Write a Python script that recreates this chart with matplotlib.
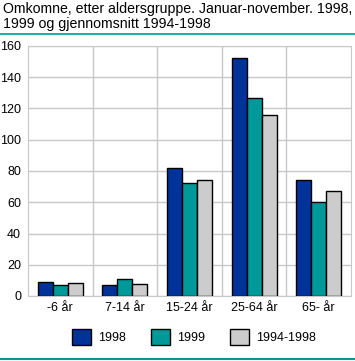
import numpy as np
import matplotlib
matplotlib.use("Agg")
import matplotlib.pyplot as plt
from matplotlib.lines import Line2D
from matplotlib.patches import Patch

categories = ["-6 år", "7-14 år", "15-24 år", "25-64 år", "65- år"]
series_names = ["1998", "1999", "1994-1998"]
v1998 = [9, 7, 82, 152, 74]
v1999 = [7, 11, 72, 127, 60]
vavg = [8.5, 8, 74, 116, 67]
colors = ["#003399", "#009999", "#cccccc"]

W, H = 355, 361
plt.rcParams["font.family"] = ["Liberation Sans", "DejaVu Sans"]
fig = plt.figure(figsize=(W / 100, H / 100), dpi=100)

ax = fig.add_axes([28 / W, (H - 296) / H, 323 / W, 250 / H])

x = np.arange(len(categories))
bw = 0.232
for i, (vals, c) in enumerate(zip([v1998, v1999, vavg], colors)):
    ax.bar(x + (i - 1) * bw, vals, bw, color=c, edgecolor="black", linewidth=1.0, zorder=3)

ax.set_xlim(-0.5, len(categories) - 0.5)
ax.set_ylim(0, 160)
ax.set_yticks(np.arange(0, 161, 20))
ax.set_xticks(x)
ax.set_xticklabels(categories)
ax.set_xticks(x[:-1] + 0.5, minor=True)
ax.tick_params(axis="both", which="both", length=0, labelsize=9, pad=4)
ax.tick_params(axis="y", pad=5)
ax.grid(axis="y", color="#c8c8c8", linewidth=1, zorder=0)
ax.grid(axis="x", which="minor", color="#c8c8c8", linewidth=1, zorder=0)
for s in ax.spines.values():
    s.set_color("#c8c8c8")

fig.text(3 / W, 1 - 2 / H, "Omkomne, etter aldersgruppe. Januar-november. 1998,\n1999 og gjennomsnitt 1994-1998",
         ha="left", va="top", fontsize=10.2, linespacing=1.1)
fig.add_artist(Line2D([0, 1], [1 - 33.5 / H] * 2, color="#009999", linewidth=1.2))
fig.add_artist(Line2D([0, 1], [1 - 359 / H] * 2, color="#009999", linewidth=1.5))

handles = [Patch(facecolor=c, edgecolor="black", linewidth=1.0) for c in colors]
fig.legend(handles, series_names, loc="center", bbox_to_anchor=(194 / W, 1 - 337 / H),
           ncol=3, frameon=False, fontsize=9, handlelength=1.5, handleheight=1.7,
           columnspacing=2.0, handletextpad=0.6)

fig.savefig("out.png", dpi=100)
